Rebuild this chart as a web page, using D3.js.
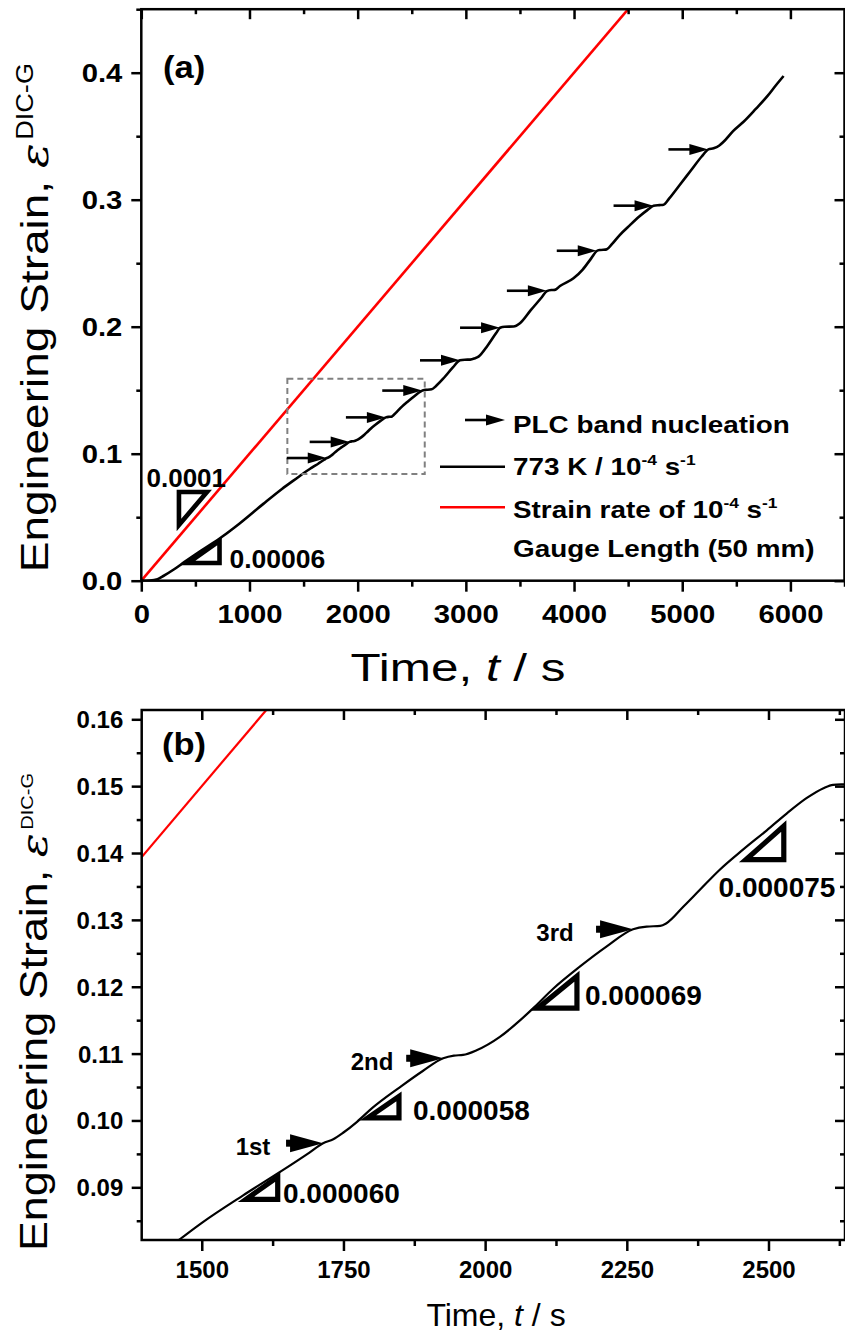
<!DOCTYPE html>
<html>
<head>
<meta charset="utf-8">
<script src="https://cdn.jsdelivr.net/npm/d3@7"></script>
<style>
  html, body { margin: 0; padding: 0; background: #fff; }
  svg { display: block; }
  text { font-family: 'Liberation Sans', Arial, Helvetica, sans-serif; fill: #000; }
</style>
</head>
<body>
<svg id="chart" width="845" height="1336"></svg>
<script>
// ---------------------------------------------------------------------------
// Data: gauge-length engineering strain (DIC) vs. time, 773 K, 1e-4 s^-1
// ---------------------------------------------------------------------------
const timeS = [0,80,150,200,300,400,550,743,900,1128,1300,1459,1502,1573,1638,1690,1714,1732,1750,1774,
  1800,1850,1890,1926,1945,1961,1985,2026,2062,2085,2120,2167,2214,2261,2285,2309,2320,2350,2379,2414,
  2455,2497,2532,2567,2597,2614,2640,2684,2720,2800,2880,2946,2990,3040,3080,3117,3200,3280,3316,3360,
  3441,3500,3600,3700,3749,3790,3823,3870,3995,4080,4160,4210,4240,4302,4350,4420,4517,4600,4680,4735,
  4790,4827,4880,4980,5080,5180,5242,5290,5340,5382,5470,5567,5680,5783,5870,5937];
const strain = [0,0.0002,0.0012,0.0035,0.0088,0.0148,0.0235,0.0344,0.0445,0.0605,0.0722,0.0821,0.0848,0.0888,0.0923,0.0952,0.0966,0.0972,0.0982,0.0998,
  0.1018,0.1050,0.1074,0.1093,0.1097,0.1098,0.1105,0.1125,0.1150,0.1168,0.1197,0.1230,0.1260,0.1286,0.1290,0.1291,0.1295,0.1320,0.1345,0.1375,
  0.1405,0.1434,0.1459,0.1482,0.1497,0.1502,0.1503,0.1507,0.1530,0.1600,0.1680,0.1735,0.1740,0.1741,0.1750,0.1764,0.1850,0.1950,0.1992,0.2000,
  0.2001,0.2027,0.2130,0.2230,0.2280,0.2289,0.2290,0.2320,0.2381,0.2450,0.2540,0.2596,0.2604,0.2609,0.2650,0.2720,0.2800,0.2865,0.2920,0.2952,
  0.2957,0.2960,0.3010,0.3120,0.3230,0.3340,0.3396,0.3405,0.3425,0.3456,0.3540,0.3614,0.3715,0.3811,0.3905,0.3974];

// PLC band nucleation events (time, strain)
const nucleationT = [1714,1926,2261,2597,2946,3316,3749,4210,4735,5242];
const nucleationE = [0.0966,0.1093,0.1286,0.1497,0.1735,0.1992,0.2283,0.2598,0.2953,0.3396];
const nucleationOrder = ["1st","2nd","3rd"];

// nominal crosshead strain rate (s^-1)
const nominalRate = 0.0001;

// local strain-rate slopes
const slopesOverview = [0.0001, 0.00006];
const slopesOverviewText = ["0.0001", "0.00006"];
const slopesDetail = [0.000060, 0.000058, 0.000069, 0.000075];
const slopesDetailText = ["0.000060", "0.000058", "0.000069", "0.000075"];

// zoom window shown in panel (b)
const zoomWindowT = [1350, 2620];
const zoomWindowE = [0.084, 0.159];

// axis ticks
const ovXMajor = [0,1000,2000,3000,4000,5000,6000];
const ovXMinor = [500,1500,2500,3500,4500,5500,6500];
const ovYMajor = [0.0,0.1,0.2,0.3,0.4];
const ovYMinor = [0.05,0.15,0.25,0.35,0.45];
const dtXMajor = [1500,1750,2000,2250,2500];
const dtXMinor = [1625,1875,2125,2375,2625];
const dtYMajor = [0.09,0.10,0.11,0.12,0.13,0.14,0.15,0.16];
const dtYMinor = [0.085,0.095,0.105,0.115,0.125,0.135,0.145,0.155];

// ---------------------------------------------------------------------------
const svg = d3.select("#chart");
const series = timeS.map((t, i) => ({ t, e: strain[i] }));
const events = nucleationT.map((t, i) => ({ t, e: nucleationE[i] }));

// text widened along its writing direction
function wideText(g, x, y, str, size, weight, sx, anchor) {
  return g.append("text")
    .attr("transform", `translate(${x},${y}) scale(${sx},1)`)
    .attr("font-size", size).attr("font-weight", weight)
    .attr("text-anchor", anchor || "start")
    .text(str);
}

function drawAxes(g, x, y, cfg) {
  const [x0, x1] = x.range();
  const [y0, y1] = y.range();
  // bottom (outward)
  const b = g.append("g").attr("transform", `translate(0,${y0})`)
    .call(d3.axisBottom(x).tickValues(cfg.xMajor).tickSize(11).tickSizeOuter(0).tickFormat(cfg.xFmt));
  g.append("g").attr("transform", `translate(0,${y0})`)
    .call(d3.axisBottom(x).tickValues(cfg.xMinor.filter(v => x(v) <= x1 + 0.5)).tickSize(6).tickSizeOuter(0).tickFormat(""));
  // left (outward)
  const l = g.append("g").attr("transform", `translate(${x0},0)`)
    .call(d3.axisLeft(y).tickValues(cfg.yMajor).tickSize(10).tickSizeOuter(0).tickFormat(cfg.yFmt));
  g.append("g").attr("transform", `translate(${x0},0)`)
    .call(d3.axisLeft(y).tickValues(cfg.yMinor.filter(v => y(v) >= y1 - 0.5)).tickSize(5).tickSizeOuter(0).tickFormat(""));
  // top (inward mirror)
  g.append("g").attr("transform", `translate(0,${y1})`)
    .call(d3.axisTop(x).tickValues(cfg.xMajor).tickSize(-10).tickSizeOuter(0).tickFormat(""));
  g.append("g").attr("transform", `translate(0,${y1})`)
    .call(d3.axisTop(x).tickValues(cfg.xMinor.filter(v => x(v) <= x1 - 1)).tickSize(-5).tickSizeOuter(0).tickFormat(""));
  // right (inward mirror)
  g.append("g").attr("transform", `translate(${x1},0)`)
    .call(d3.axisRight(y).tickValues(cfg.yMajor).tickSize(-10).tickSizeOuter(0).tickFormat(""));
  g.append("g").attr("transform", `translate(${x1},0)`)
    .call(d3.axisRight(y).tickValues(cfg.yMinor.filter(v => y(v) >= y1 + 1)).tickSize(-5).tickSizeOuter(0).tickFormat(""));

  g.selectAll(".domain").remove();
  g.selectAll(".tick line").attr("stroke", "#000").attr("stroke-width", 2.5);

  // tick labels: bold, optionally widened
  b.selectAll(".tick text").each(function () {
    d3.select(this).attr("x", null).attr("y", null).attr("dy", null)
      .attr("transform", `translate(0,${cfg.xLabelBase}) scale(${cfg.sx},1)`)
      .attr("font-size", cfg.tickSize).attr("font-weight", "bold")
      .attr("font-family", null).attr("fill", "#000");
  });
  l.selectAll(".tick text").each(function () {
    d3.select(this).attr("x", null).attr("dy", "0.35em")
      .attr("transform", `translate(${-cfg.yLabelGap},0) scale(${cfg.sx},1)`)
      .attr("font-size", cfg.tickSize).attr("font-weight", "bold")
      .attr("font-family", null).attr("fill", "#000");
  });

  // frame
  g.append("rect")
    .attr("x", x0).attr("y", y1).attr("width", x1 - x0).attr("height", y0 - y1)
    .attr("fill", "none").attr("stroke", "#000").attr("stroke-width", 2.5);
}

// rotated y title, anchored at its upper end (end of the superscript)
function yTitle(g, baseX, endY, size, supSize, supRise, ls) {
  const t = g.append("text")
    .attr("transform", `translate(${baseX},${endY}) rotate(-90) scale(${ls},1)`)
    .attr("text-anchor", "end").attr("font-size", size);
  t.append("tspan").text("Engineering Strain, ");
  t.append("tspan").attr("font-style", "italic").attr("font-family", "'DejaVu Serif', serif").text("\u03B5");
  t.append("tspan").attr("font-size", supSize).attr("dx", 3).attr("dy", -supRise).text("DIC-G");
}

function xTitle(g, cx, base, size, sx) {
  const t = g.append("text")
    .attr("transform", `translate(${cx},${base}) scale(${sx},1)`)
    .attr("text-anchor", "middle").attr("font-size", size);
  t.append("tspan").text("Time, ");
  t.append("tspan").attr("font-style", "italic").text("t");
  t.append("tspan").text(" / s");
}

// slope triangles
function slopeTriangle(g, xs, ys, t0, t1, e0, rate, orient, sw) {
  const e1 = e0 + rate * (t1 - t0);
  let pts;
  if (orient === "upper") {       // right angle at top-left
    pts = [[xs(t0), ys(e1)], [xs(t1), ys(e1)], [xs(t0), ys(e0)]];
  } else {                        // right angle at bottom-right
    pts = [[xs(t0), ys(e0)], [xs(t1), ys(e1)], [xs(t1), ys(e0)]];
  }
  g.append("path").attr("d", d3.line()(pts) + "Z")
    .attr("fill", "none").attr("stroke", "#000").attr("stroke-width", sw)
    .attr("stroke-linejoin", "miter").attr("stroke-miterlimit", 10);
}

// ===========================================================================
// Panel (a): whole test
// ===========================================================================
const ga = svg.append("g");
const xa = d3.scaleLinear().domain([0, 6500]).range([141.3, 844.5]);
const ya = d3.scaleLinear().domain([0, 0.45]).range([580.7, 9.2]);

svg.append("clipPath").attr("id", "clipA").append("rect")
  .attr("x", xa.range()[0]).attr("y", ya.range()[1])
  .attr("width", xa.range()[1] - xa.range()[0]).attr("height", ya.range()[0] - ya.range()[1]);

const pa = ga.append("g").attr("clip-path", "url(#clipA)");

// nominal strain-rate line
pa.append("path")
  .datum([0, 0.45 / nominalRate])
  .attr("d", d => d3.line()(d.map(t => [xa(t), ya(nominalRate * t)])))
  .attr("stroke", "#ff0000").attr("stroke-width", 2.6).attr("fill", "none");

// measured curve
const lineA = d3.line().x(d => xa(d.t)).y(d => ya(d.e)).curve(d3.curveMonotoneX);
pa.append("path").datum(series).attr("d", lineA)
  .attr("stroke", "#000").attr("stroke-width", 2.6).attr("fill", "none")
  .attr("stroke-linejoin", "round");

// zoom window
ga.append("rect")
  .attr("x", xa(zoomWindowT[0])).attr("y", ya(zoomWindowE[1]))
  .attr("width", xa(zoomWindowT[1]) - xa(zoomWindowT[0]))
  .attr("height", ya(zoomWindowE[0]) - ya(zoomWindowE[1]))
  .attr("fill", "none").attr("stroke", "#808080").attr("stroke-width", 2)
  .attr("stroke-dasharray", "6,4");

// nucleation arrows
function arrowA(g, tipX, tipY) {
  g.append("line").attr("x1", tipX - 40).attr("x2", tipX - 14).attr("y1", tipY).attr("y2", tipY)
    .attr("stroke", "#000").attr("stroke-width", 2.6);
  g.append("path").attr("d", `M${tipX},${tipY} L${tipX - 19},${tipY - 5.5} L${tipX - 19},${tipY + 5.5} Z`)
    .attr("fill", "#000");
}
events.forEach(d => arrowA(ga, xa(d.t), ya(d.e)));

slopeTriangle(ga, xa, ya, 348, 607, 0.0698 - 0.0001 * 259, slopesOverview[0], "upper", 4.6);
slopeTriangle(ga, xa, ya, 432, 723, 0.0139, slopesOverview[1], "lower", 4.6);
ga.append("text").attr("x", 146.5).attr("y", 486.5).attr("font-size", 26).attr("font-weight", "bold")
  .text(slopesOverviewText[0]);
ga.append("text").attr("x", 229.5).attr("y", 568).attr("font-size", 26.5).attr("font-weight", "bold")
  .text(slopesOverviewText[1]);

// legend
const lg = ga.append("g");
const legX0 = 440, legX1 = 505, legTextX = 513;
arrowA(lg, legX1, 420);
lg.append("line").attr("x1", legX0).attr("x2", legX1).attr("y1", 466.7).attr("y2", 466.7)
  .attr("stroke", "#000").attr("stroke-width", 2.6);
lg.append("line").attr("x1", legX0).attr("x2", legX1).attr("y1", 507.3).attr("y2", 507.3)
  .attr("stroke", "#ff0000").attr("stroke-width", 2.6);
const legSx = 1.16, legSize = 24;
wideText(lg, legTextX, 432.5, "PLC band nucleation", legSize, "bold", legSx);
function rateText(g, y, lead) {
  const t = g.append("text").attr("transform", `translate(${legTextX},${y}) scale(${legSx},1)`)
    .attr("font-size", legSize).attr("font-weight", "bold");
  t.append("tspan").text(lead);
  t.append("tspan").attr("font-size", 15).attr("dy", -10).text("-4");
  t.append("tspan").attr("dy", 10).text(" s");
  t.append("tspan").attr("font-size", 15).attr("dy", -10).text("-1");
}
rateText(lg, 475, "773 K / 10");
rateText(lg, 518.3, "Strain rate of 10");
wideText(lg, legTextX, 556.7, "Gauge Length (50 mm)", legSize, "bold", legSx);

drawAxes(ga, xa, ya, {
  xMajor: ovXMajor, xMinor: ovXMinor, yMajor: ovYMajor, yMinor: ovYMinor,
  xFmt: d3.format("d"), yFmt: d3.format(".1f"),
  tickSize: 25, sx: 1.17, xLabelBase: 42.5, yLabelGap: 19
});

wideText(ga, 163, 78, "(a)", 32, "bold", 1.08);
xTitle(ga, 458, 681, 38, 1.3);
yTitle(ga, 48, 63, 39, 23, 15, 1.18);

// ===========================================================================
// Panel (b): detail of the first band events
// ===========================================================================
const gb = svg.append("g");
const xb = d3.scaleLinear().domain([1394, 2635]).range([141.7, 845]);
const yb = d3.scaleLinear().domain([0.08212, 0.16139]).range([1240, 710]);

svg.append("clipPath").attr("id", "clipB").append("rect")
  .attr("x", xb.range()[0]).attr("y", yb.range()[1])
  .attr("width", xb.range()[1] - xb.range()[0]).attr("height", yb.range()[0] - yb.range()[1]);
const pb = gb.append("g").attr("clip-path", "url(#clipB)");

pb.append("path")
  .datum(xb.domain())
  .attr("d", d => d3.line()(d.map(t => [xb(t), yb(nominalRate * t)])))
  .attr("stroke", "#ff0000").attr("stroke-width", 2.2).attr("fill", "none");

const lineB = d3.line().x(d => xb(d.t)).y(d => yb(d.e)).curve(d3.curveMonotoneX);
pb.append("path").datum(series).attr("d", lineB)
  .attr("stroke", "#000").attr("stroke-width", 2.2).attr("fill", "none")
  .attr("stroke-linejoin", "round");

// slope triangles along the curve
const triB = [
  { t0: 1578, t1: 1634, e0: 0.0882, lx: 283, ly: 1203, anchor: "start" },
  { t0: 1793, t1: 1848, e0: 0.1004, lx: 413, ly: 1120, anchor: "start" },
  { t0: 2093, t1: 2162, e0: 0.1168, lx: 585, ly: 1005, anchor: "start" },
  { t0: 2460, t1: 2527, e0: 0.1390, lx: 777, ly: 897, anchor: "middle" }
];
triB.forEach((d, i) => {
  slopeTriangle(gb, xb, yb, d.t0, d.t1, d.e0, slopesDetail[i], "lower", 5.2);
  gb.append("text").attr("x", d.lx).attr("y", d.ly).attr("text-anchor", d.anchor)
    .attr("font-size", 28).attr("font-weight", "bold").text(slopesDetailText[i]);
});

// first three nucleation events
function arrowB(g, tipX, tipY) {
  g.append("rect").attr("x", tipX - 37).attr("y", tipY - 3.5).attr("width", 5).attr("height", 7).attr("fill", "#000");
  g.append("path").attr("d", `M${tipX},${tipY} L${tipX - 33},${tipY - 9} L${tipX - 33},${tipY + 9} Z`)
    .attr("fill", "#000");
}
const orderLabelX = [253, 372, 555];
events.slice(0, 3).forEach((d, i) => {
  arrowB(gb, xb(d.t), yb(d.e));
  gb.append("text").attr("x", orderLabelX[i]).attr("y", yb(d.e) + 12).attr("text-anchor", "middle")
    .attr("font-size", 24).attr("font-weight", "bold").text(nucleationOrder[i]);
});

drawAxes(gb, xb, yb, {
  xMajor: dtXMajor, xMinor: dtXMinor, yMajor: dtYMajor, yMinor: dtYMinor,
  xFmt: d3.format("d"), yFmt: d3.format(".2f"),
  tickSize: 24, sx: 1.0, xLabelBase: 38, yLabelGap: 18.4
});

wideText(gb, 162, 755, "(b)", 32, "bold", 1.08);
xTitle(gb, 496, 1326, 32, 1.0);
yTitle(gb, 47, 773, 38, 17, 14, 1.18);
</script>
</body>
</html>
